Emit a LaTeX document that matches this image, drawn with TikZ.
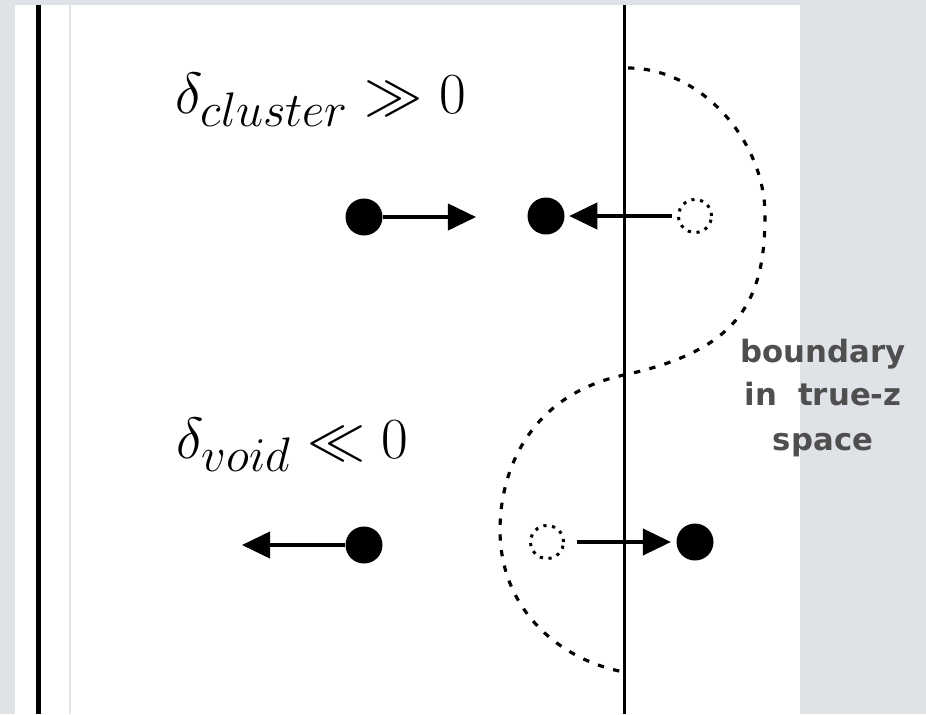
\documentclass[tikz,border=0pt]{standalone}
\usepackage{fontspec}
\newfontfamily\lblfont{DejaVu Sans}
\usetikzlibrary{arrows.meta}
\definecolor{bggray}{HTML}{DFE2E7}
\definecolor{thingray}{HTML}{E2E4EA}
\definecolor{lblgray}{HTML}{4F4F4F}
\begin{document}
\begin{tikzpicture}[x=0.02cm,y=-0.02cm,
  dot/.style={circle,fill=black,inner sep=0pt,minimum size=0.74cm},
  hollow/.style={circle,draw=black,line width=1.7pt,dash pattern=on 1.8pt off 3.2pt,inner sep=0pt,minimum size=0.66cm},
  arr/.style={line width=1.9pt,-{Triangle[length=16pt,width=15pt]}},
  boundaryline/.style={line width=1.8pt,dash pattern=on 3.6pt off 5.4pt},
  mathlbl/.style={anchor=base west,inner sep=0pt,font=\Huge,scale=1.33},
  sidelbl/.style={anchor=base,inner sep=0pt,text=lblgray,font=\lblfont\bfseries\fontsize{17.5}{21}\selectfont}]
% background
\fill[bggray] (0,0) rectangle (926,714);
\fill[white] (15,5) rectangle (800,714);
\useasboundingbox (0,0) rectangle (926,714);
% vertical lines
\draw[line width=2.6pt] (38.5,5) -- (38.5,714);
\draw[thingray,line width=1.2pt] (70,5) -- (70,714);
\draw[line width=1.8pt] (624.5,5) -- (624.5,714);
% boundary curve
\draw[boundaryline] (628,68) .. controls (700,68) and (765,140) .. (765,215)
  .. controls (765,300) and (740,350) .. (624,375)
  .. controls (530,395) and (500,470) .. (500,530)
  .. controls (500,610) and (560,660) .. (624,672);
% labels
\node[mathlbl] (dc) at (175,113) {$\delta_{cluster} \gg 0$};
\node[mathlbl] (dv) at (176,458) {$\delta_{void} \ll 0$};
\node[sidelbl] (l1) at (823,362) {boundary};
\node[sidelbl] (l2) at (823,405) {in\ \ true-z};
\node[sidelbl] (l3) at (823,450) {space};
% particles
\node[dot] (c1) at (364,217) {};
\node[dot] (c2) at (546,216) {};
\node[hollow] (h1) at (695,216) {};
\node[dot] (v1) at (364,545) {};
\node[hollow] (h2) at (547,542) {};
\node[dot] (v2) at (695,542) {};
\coordinate (t1) at (476,217);
\coordinate (t3) at (242,545);
% arrows
\draw[arr] (c1.east) -- (t1);
\draw[arr,shorten <=3pt,shorten >=2.5pt] (h1) -- (c2);
\draw[arr] (v1.west) -- (t3);
\draw[arr,shorten <=7pt,shorten >=3pt] (h2) -- (v2);
\end{tikzpicture}
\end{document}
